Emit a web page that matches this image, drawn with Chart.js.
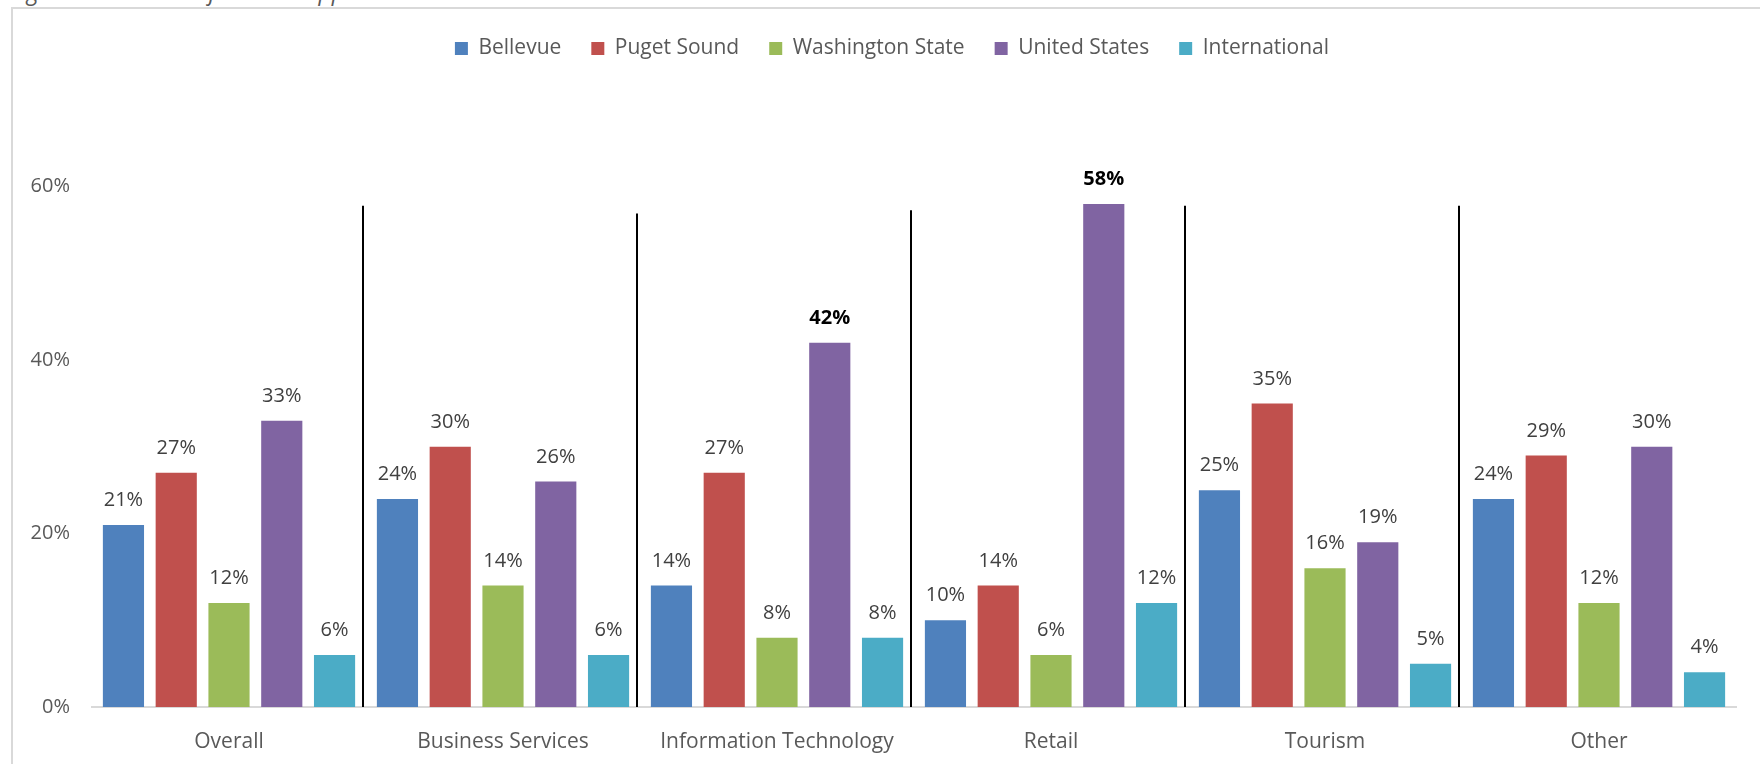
<!DOCTYPE html>
<html lang="en">
  <head>
    <title>Location of Future Suppliers</title>
    <meta charset="utf-8" />
    <script src="https://cdn.jsdelivr.net/npm/chart.js"></script>
    <style>
      body {
        margin: 0;
        background: #fff;
        overflow: hidden;
      }
      .wrap {
        position: relative;
        width: 1760px;
        height: 764px;
        overflow: hidden;
      }
      .caption {
        position: absolute;
        left: 10px;
        top: -20px;
        font: italic 23px "Open Sans", sans-serif;
        line-height: 23px;
        color: #595959;
        white-space: nowrap;
      }
      .frame {
        position: absolute;
        left: 11px;
        top: 7px;
        width: 2000px;
        height: 2000px;
        border: 2px solid #d9d9d9;
      }
      #chart {
        position: absolute;
        left: 0;
        top: 0;
      }
    </style>
  </head>
  <body>
    <div class="wrap">
      <div class="caption">Figure 5: Location of Future Suppliers</div>
      <div class="frame"></div>
      <canvas id="chart" width="1760" height="764"></canvas>
    </div>

    <script>
      // 업종별 향후 공급업체 위치 (%)
      const categories = [
        "Overall",
        "Business Services",
        "Information Technology",
        "Retail",
        "Tourism",
        "Other",
      ];
      const bellevue = [21, 24, 14, 10, 25, 24];
      const pugetSound = [27, 30, 27, 14, 35, 29];
      const washingtonState = [12, 14, 8, 6, 16, 12];
      const unitedStates = [33, 26, 42, 58, 19, 30];
      const international = [6, 6, 8, 12, 5, 4];
      const yTicks = [0, 20, 40, 60];
      // 굵게 표시할 라벨 [series, category]
      const boldLabels = [
        [3, 2],
        [3, 3],
      ];
      // 업종 사이 구분선 윗끝 (%)
      const separatorTops = [57.8, 56.9, 57.3, 57.8, 57.8];

      const textColor = "#595959";
      const labelColor = "#404040";
      const fontFamily = "'Open Sans', sans-serif";

      // 막대 위 값 라벨
      const valueLabels = {
        id: "valueLabels",
        afterDatasetsDraw(chart) {
          const ctx = chart.ctx;
          ctx.save();
          ctx.textAlign = "center";
          ctx.textBaseline = "alphabetic";
          chart.data.datasets.forEach((ds, di) => {
            chart.getDatasetMeta(di).data.forEach((bar, ci) => {
              const bold = boldLabels.some((b) => b[0] === di && b[1] === ci);
              ctx.font = (bold ? "bold " : "") + "20px " + fontFamily;
              ctx.fillStyle = bold ? "#000" : labelColor;
              ctx.fillText(ds.data[ci] + "%", bar.x, bar.y - 19);
            });
          });
          ctx.restore();
        },
      };

      // 업종 구분 세로선
      const separators = {
        id: "separators",
        afterDatasetsDraw(chart) {
          const ctx = chart.ctx;
          const x = chart.scales.x;
          const y = chart.scales.y;
          ctx.save();
          ctx.strokeStyle = "#000";
          ctx.lineWidth = 2;
          separatorTops.forEach((top, i) => {
            const px =
              (x.getPixelForValue(i) + x.getPixelForValue(i + 1)) / 2 - 3;
            ctx.beginPath();
            ctx.moveTo(px, y.getPixelForValue(top));
            ctx.lineTo(px, y.getPixelForValue(0));
            ctx.stroke();
          });
          ctx.restore();
        },
      };

      // 범례 아래 여백, 범례는 플롯 쪽으로 조금 오른쪽
      const legendGap = {
        id: "legendGap",
        beforeInit(chart) {
          const fit = chart.legend.fit;
          chart.legend.fit = function () {
            fit.bind(chart.legend)();
            this.height = 92;
          };
        },
        afterLayout(chart) {
          chart.legend.left += 48;
        },
      };

      const series = [
        { label: "Bellevue", data: bellevue, color: "#4f81bd" },
        { label: "Puget Sound", data: pugetSound, color: "#c0504d" },
        { label: "Washington State", data: washingtonState, color: "#9bbb59" },
        { label: "United States", data: unitedStates, color: "#8064a2" },
        { label: "International", data: international, color: "#4bacc6" },
      ];

      new Chart(document.getElementById("chart"), {
        type: "bar",
        data: {
          labels: categories,
          datasets: series.map((s) => ({
            label: s.label,
            data: s.data,
            backgroundColor: s.color,
            borderWidth: 0,
            categoryPercentage: 0.963,
            barPercentage: 0.78,
          })),
        },
        options: {
          responsive: false,
          animation: false,
          layout: { padding: { top: 8, right: 24, left: 0, bottom: 0 } },
          plugins: {
            legend: {
              labels: {
                boxWidth: 13,
                boxHeight: 13,
                padding: 30,
                color: textColor,
                font: { family: fontFamily, size: 21 },
              },
            },
            tooltip: { enabled: false },
          },
          scales: {
            x: {
              grid: { display: false },
              border: { display: true, color: "#d9d9d9", width: 2 },
              ticks: {
                color: textColor,
                padding: 14,
                font: { family: fontFamily, size: 21 },
              },
              afterFit(scale) {
                scale.height = 57;
              },
            },
            y: {
              min: 0,
              max: 70,
              grid: { display: false },
              border: { display: false },
              afterBuildTicks(scale) {
                scale.ticks = yTicks.map((v) => ({ value: v }));
              },
              ticks: {
                color: textColor,
                padding: 14,
                font: { family: fontFamily, size: 20 },
                callback: (v) => v + "%",
              },
              afterFit(scale) {
                scale.width = 92;
              },
            },
          },
        },
        plugins: [legendGap, separators, valueLabels],
      });
    </script>
  </body>
</html>
